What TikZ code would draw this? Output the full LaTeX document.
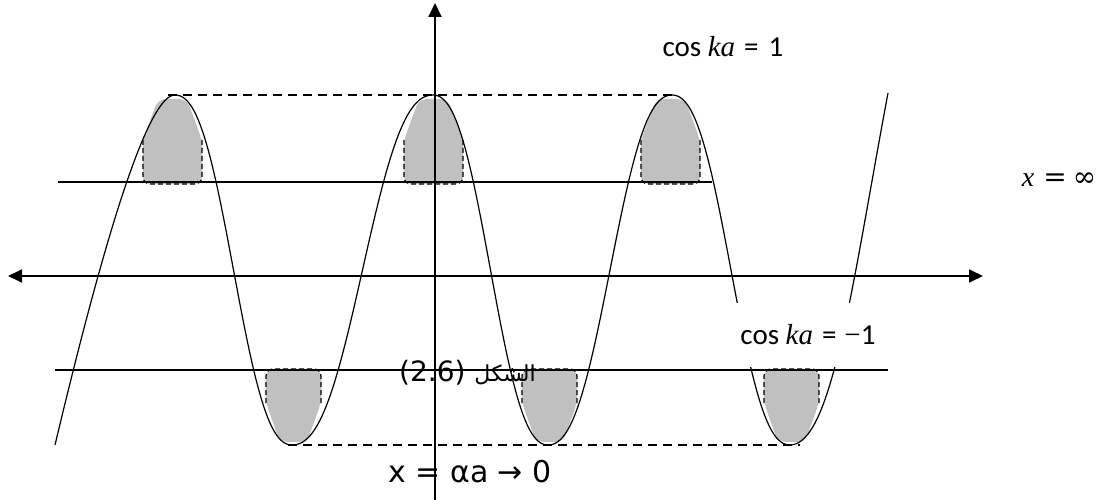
\RequirePackage{fix-cm}
\documentclass[tikz,border=0pt]{standalone}
\usepackage{fontspec}
\usepackage{tikz}
\usetikzlibrary{arrows.meta,positioning}
\newfontfamily\carlito{Carlito}
\newfontfamily\timesit{Liberation Serif}
\newfontfamily\dvserif{DejaVu Serif}
\newfontfamily\dejavu{DejaVu Sans}
\newfontfamily\arabicfont[Script=Arabic]{DejaVu Sans}
\TeXXeTstate=1
\definecolor{bandgray}{HTML}{C0C0C0}
\tikzset{
  axisline/.style  = {draw=black, line width=1.8pt, >={Triangle[length=14pt,width=13pt]}},
  levelline/.style = {draw=black, line width=1.6pt},
  guide/.style     = {draw=black, line width=1.4pt, dash pattern=on 9pt off 6pt},
  bandcurve/.style = {draw=black, line width=1.2pt, line join=round},
  bandfill/.style  = {fill=bandgray, rounded corners=8pt},
  bandedge/.style  = {draw=black, line width=1.2pt, dash pattern=on 5pt off 3pt, rounded corners=7pt},
  coslbl/.style    = {font=\carlito\fontsize{29}{34}\selectfont, inner sep=0pt},
  mathlbl/.style   = {font=\timesit\fontsize{28}{33}\selectfont, inner sep=0pt},
  figlbl/.style    = {font=\dejavu\fontsize{28}{33}\selectfont, inner sep=0pt},
  limlbl/.style    = {font=\dejavu\fontsize{30}{36}\selectfont, inner sep=0pt},
}
\newcommand{\kavar}{{\timesit\itshape ka}}

\begin{document}
\begin{tikzpicture}[x=1pt,y=-1pt]
      \useasboundingbox (0,0) rectangle (1111,500);
      % shaded bands at the peaks and troughs
      \foreach \c in {173,434,671}{
        \fill[bandfill] (\c-30,140) -- (\c-30,184) -- (\c+29,184) -- (\c+29,140)
          -- (\c+14,99) -- (\c-15,99) -- cycle;
        \draw[bandedge] (\c-30,140) -- (\c-30,184) -- (\c+29,184) -- (\c+29,140);}
      \foreach \c in {293,549,791}{
        \fill[bandfill] (\c-27,403) -- (\c-27,369) -- (\c+28,369) -- (\c+28,403)
          -- (\c+14,442) -- (\c-13,442) -- cycle;
        \draw[bandedge] (\c-27,403) -- (\c-27,369) -- (\c+28,369) -- (\c+28,403);}
      % axes
      \coordinate (hl) at (8,276);
      \coordinate (hr) at (983,276);
      \coordinate (vb) at (435,500);
      \coordinate (vt) at (435,3);
      \draw[axisline,<->] (hl) -- (hr);
      \draw[axisline,->] (vb) -- (vt);
      % levels cos ka = 1 and cos ka = -1
      \coordinate (ua) at (58,182);
      \coordinate (ub) at (712,182);
      \coordinate (la) at (55,370);
      \coordinate (lb) at (888,370);
      \draw[levelline] (ua) -- (ub);
      \draw[levelline] (la) -- (lb);
      \coordinate (ta) at (168,95);
      \coordinate (tb) at (676,95);
      \coordinate (ba) at (288,445);
      \coordinate (bb) at (800,445);
      \draw[guide] (ta) -- (tb);
      \draw[guide] (ba) -- (bb);
      % the curve
      \draw[bandcurve] (55,445) .. controls (105,235) and (148,95) .. (175,95)
        foreach \xa/\ya/\xb/\yb in {175/95/292/445,292/445/433/95,433/95/548/445,548/445/672/95,672/95/790/445}{
          -- plot[variable=\t,domain=0:1,samples=51] ({\xa+(\xb-\xa)*\t},
             {\ya+(\yb-\ya)*(0.25*(1-cos(180*\t))+0.5*(\t-sin(360*\t)/(2*pi)))})}
        .. controls (832,445) and (852,285) .. (888,93);
      % labels
      \node[coslbl] (coshi) at (723,47) {cos \kavar\hspace{9pt}=\hspace{10pt}1};
      \node[coslbl,fill=white,minimum width=173pt,minimum height=64pt] (coslo) at (808,335)
        {cos \kavar\hspace{9pt}=\hspace{8pt}{\timesit −}1};
      \node[mathlbl] (xinf) at (1059,180) {\itshape x\hspace{9pt}{\dvserif\upshape =\hspace{6pt}∞}};
      \node[figlbl,anchor=west] (figcap) at (399,373)
        {(2.6) {\arabicfont\fontsize{22}{26}\selectfont\beginR الشكل\endR}};
      \node[limlbl] (xlim) at (470,472) {x = αa → 0};
    \end{tikzpicture}
\end{document}
